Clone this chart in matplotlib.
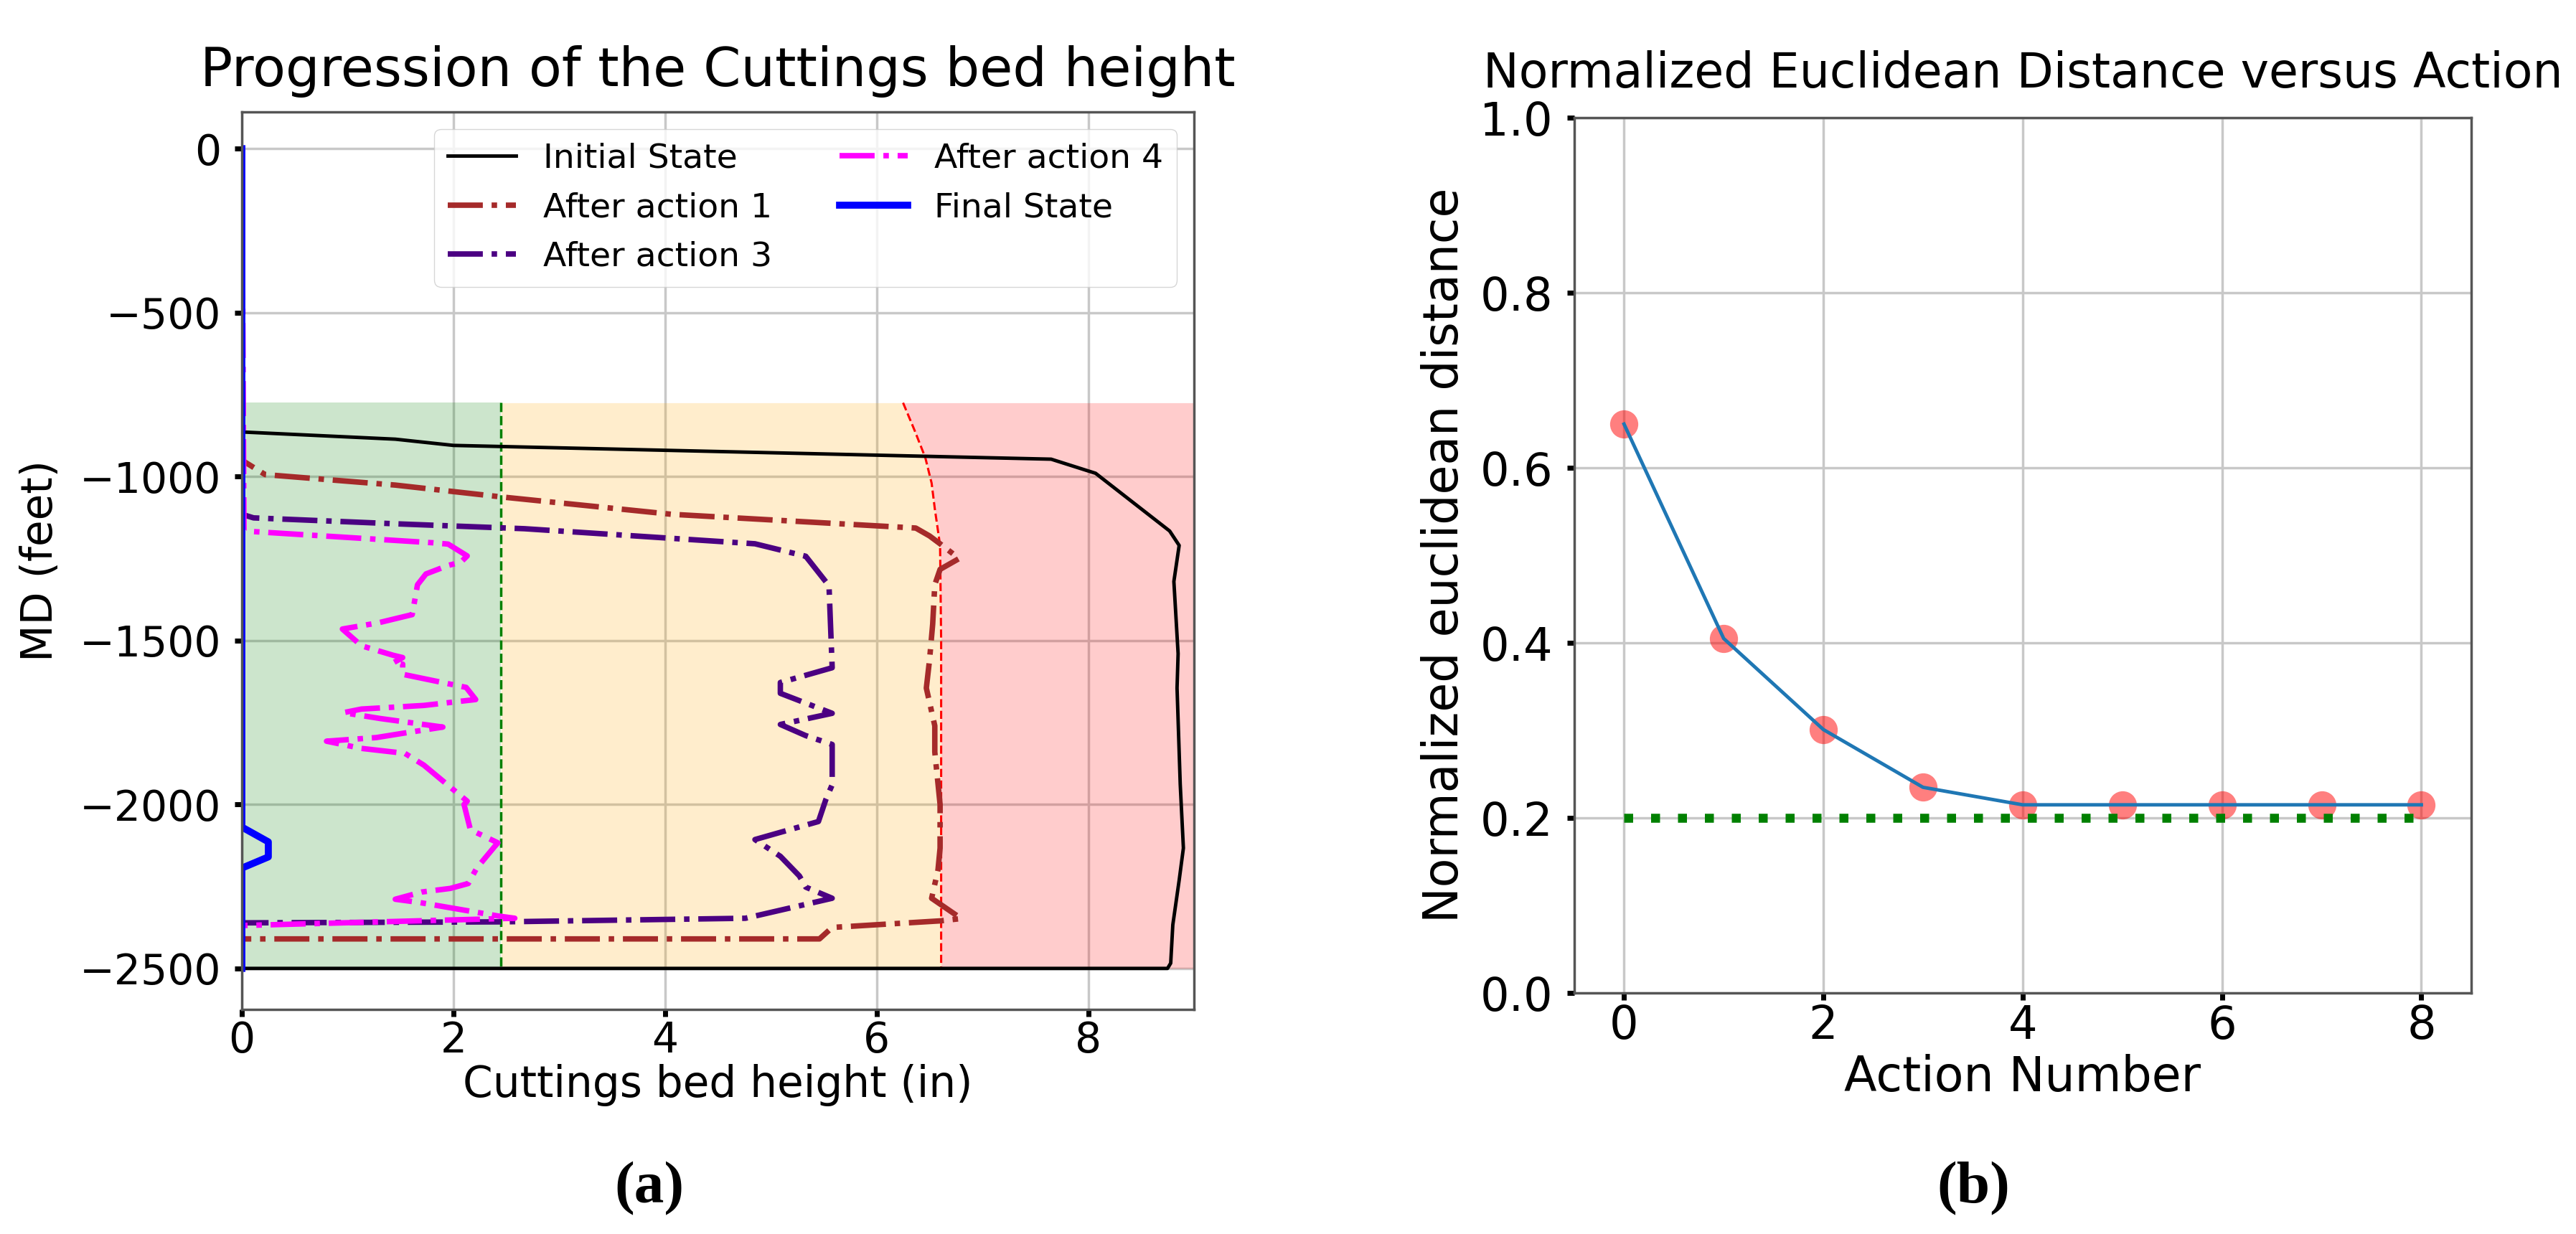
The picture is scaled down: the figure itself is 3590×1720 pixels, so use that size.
import matplotlib
matplotlib.use("Agg")
import matplotlib.pyplot as plt

# ---- panel (a): cuttings bed height vs measured depth ----
bed_top = -775          # top of the shaded zone (ft)
bed_bottom = -2500      # bottom of the well section (ft)
green_limit = 2.45      # safe bed height (in)
red_md = [-775, -860, -942, -1020, -1098, -1210, -1500, -2500]
red_h = [6.25, 6.36, 6.46, 6.52, 6.55, 6.60, 6.61, 6.61]

init_md = [0, -864, -886, -905, -947, -990, -1166, -1210, -1320, -1540, -1645,
           -1938, -2133, -2231, -2367, -2484, -2500, -2500]
init_h = [0, 0, 1.45, 2.0, 7.65, 8.07, 8.77, 8.86, 8.81, 8.85, 8.84,
          8.87, 8.90, 8.86, 8.80, 8.78, 8.75, 0]

act1_md = [0, -950, -994, -1026, -1062, -1115, -1157, -1181, -1205, -1250, -1283,
           -1330, -1450, -1560, -1645, -1760, -1840, -2000, -2133, -2200, -2286,
           -2348, -2355, -2375, -2410, -2410]
act1_h = [0, 0, 0.22, 1.45, 2.45, 4.06, 6.37, 6.50, 6.60, 6.78, 6.60,
          6.55, 6.53, 6.50, 6.47, 6.55, 6.55, 6.60, 6.60, 6.58, 6.52,
          6.80, 6.60, 5.58, 5.46, 0]

act3_md = [0, -1115, -1126, -1144, -1159, -1205, -1243, -1333, -1583, -1628, -1661,
           -1722, -1756, -1790, -1817, -1940, -1985, -2052, -2107, -2158, -2218,
           -2252, -2286, -2347, -2358, -2361]
act3_h = [0, 0, 0.11, 1.45, 2.67, 4.85, 5.33, 5.55, 5.58, 5.09, 5.09,
          5.58, 5.09, 5.33, 5.58, 5.58, 5.52, 5.45, 4.85, 5.09, 5.27,
          5.33, 5.58, 4.76, 2.45, 0]

act4_md = [0, -1166, -1202, -1206, -1242, -1261, -1271, -1297, -1330, -1421, -1446,
           -1465, -1516, -1545, -1552, -1568, -1572, -1603, -1643, -1680, -1698,
           -1709, -1720, -1738, -1764, -1782, -1796, -1807, -1829, -1844, -1880,
           -1990, -2000, -2077, -2117, -2128, -2194, -2241, -2256, -2267, -2289,
           -2299, -2325, -2340, -2347, -2369]
act4_h = [0, 0.02, 1.81, 1.95, 2.13, 2.07, 1.95, 1.74, 1.66, 1.61, 1.29,
          0.95, 1.13, 1.43, 1.52, 1.43, 1.52, 1.52, 2.12, 2.21, 1.72,
          1.13, 0.96, 1.31, 1.90, 1.54, 1.27, 0.80, 1.13, 1.54, 1.72,
          2.13, 2.10, 2.16, 2.42, 2.39, 2.22, 2.14, 1.97, 1.70, 1.45,
          1.68, 2.15, 2.42, 2.58, 0.02]

final_md = [0, -2069, -2114, -2160, -2194, -2500]
final_h = [0, 0, 0.25, 0.25, 0, 0]

# ---- panel (b): normalized distance per action ----
actions = [0, 1, 2, 3, 4, 5, 6, 7, 8]
distance = [0.65, 0.405, 0.301, 0.235, 0.215, 0.215, 0.215, 0.215, 0.215]
target = 0.2

fig = plt.figure(figsize=(35.9, 17.2), dpi=100)
ax1 = fig.add_axes([0.0939, 0.1820, 0.3696, 0.7273])
ax2 = fig.add_axes([0.6111, 0.1953, 0.3482, 0.7093])

for ax in (ax1, ax2):
    ax.grid(True, color="#c8c8c8", lw=2.5)
    ax.set_axisbelow(True)
    for sp in ax.spines.values():
        sp.set_color("#555555")
        sp.set_linewidth(2.5)
    ax.tick_params(length=7, width=5, color="black")

# zones
ax1.fill_betweenx([bed_top, bed_bottom], 0, green_limit, color="green", alpha=0.2, lw=0)
ax1.fill_betweenx(red_md, green_limit, red_h, color="orange", alpha=0.2, lw=0)
ax1.fill_betweenx(red_md, red_h, 9, color="red", alpha=0.2, lw=0)
ax1.plot([green_limit, green_limit], [bed_top, bed_bottom], "--", color="green", lw=2.5)
ax1.plot(red_h, red_md, "--", color="red", lw=2.2)

ax1.plot(init_h, init_md, "-", color="black", lw=3.5, label="Initial State")
ax1.plot(act1_h, act1_md, "-.", color="brown", lw=5.5, label="After action 1")
ax1.plot(act3_h, act3_md, "-.", color="indigo", lw=5.5, label="After action 3")
ax1.plot(act4_h, act4_md, "-.", color="magenta", lw=5.5, label="After action 4")
ax1.plot(final_h, final_md, "-", color="blue", lw=7, label="Final State")

ax1.set_xlim(0, 9)
ax1.set_ylim(-2625, 112)
ax1.set_xticks([0, 2, 4, 6, 8])
ax1.set_yticks([0, -500, -1000, -1500, -2000, -2500])
ax1.tick_params(axis="both", labelsize=42)
ax1.tick_params(axis="y", pad=13.5)
ax1.set_xlabel("Cuttings bed height (in)", fontsize=43, labelpad=3)
ax1.set_ylabel("MD (feet)", fontsize=43, labelpad=18)
ax1.set_title("Progression of the Cuttings bed height", fontsize=54, pad=26)
ax1.legend(loc="upper right", ncol=2, fontsize=34, labelspacing=0.5,
           framealpha=0.8, edgecolor="0.8")

# right panel
ax2.scatter(actions, distance, s=800, color="red", alpha=0.5, lw=0, zorder=2)
ax2.plot(actions, distance, color="#1f77b4", lw=3.5, zorder=3)
ax2.plot([actions[0], actions[-1]], [target, target], color="green", lw=9,
         dashes=(1, 2), zorder=2)
ax2.set_xlim(-0.5, 8.5)
ax2.set_ylim(0, 1)
ax2.set_xticks([0, 2, 4, 6, 8])
ax2.set_yticks([0.0, 0.2, 0.4, 0.6, 0.8, 1.0])
ax2.tick_params(axis="both", labelsize=46)
ax2.tick_params(axis="y", pad=14.5)
ax2.set_xlabel("Action Number", fontsize=48, labelpad=6)
ax2.set_ylabel("Normalized euclidean distance", fontsize=48, labelpad=11.5)
ax2.set_title("Normalized Euclidean Distance versus Action", fontsize=48, pad=30.5)

fig.text(905 / 3590, 1 - 1657 / 1720, "(a)", ha="center", va="center",
         fontsize=60, fontweight="bold", family="Liberation Serif")
fig.text(2750 / 3590, 1 - 1657 / 1720, "(b)", ha="center", va="center",
         fontsize=60, fontweight="bold", family="Liberation Serif")

fig.savefig("out.png", dpi=100)
